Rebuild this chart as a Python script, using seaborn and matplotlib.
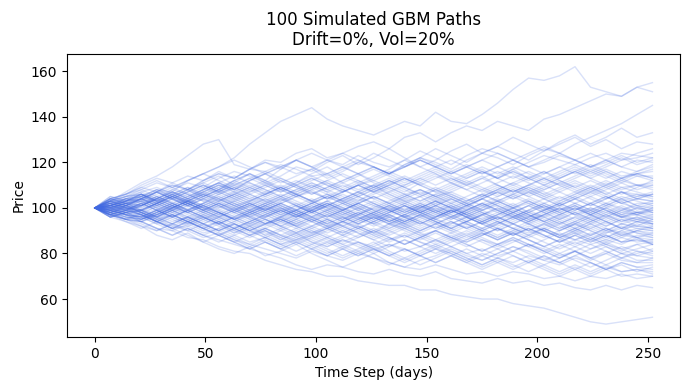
import pandas as pd
import matplotlib
matplotlib.use("Agg")
import matplotlib.pyplot as plt
import seaborn as sns

# price of each simulated path, every 7 trading days
start_price = 100
days = list(range(0, 253, 7))

batch_1 = [
    [102,104,105,108,107,112,115,118,122,128,133,138,141,144,139,136,134,132,135,138,136,142,138,137,141,146,152,157,156,158,162,153,151,149,153,151],
    [103,107,111,114,118,123,128,130,119,117,121,120,124,126,122,124,127,129,126,131,133,129,133,136,134,138,136,134,139,141,144,147,150,149,153,155],
    [99,101,98,102,105,103,107,110,108,112,115,111,114,117,113,116,120,118,115,119,122,120,117,121,124,122,119,123,126,124,128,131,134,137,141,145],
    [97,101,104,102,106,109,105,108,112,115,111,114,118,116,120,123,119,122,126,122,118,121,125,128,124,127,131,128,125,129,132,128,131,135,131,133],
    [98,95,94,91,90,87,86,83,81,80,77,75,73,72,70,70,68,67,66,66,64,64,62,61,60,60,58,57,56,54,52,50,49,50,51,52],
    [97,95,92,90,93,91,88,86,84,82,80,78,75,73,75,74,72,71,73,71,70,72,69,68,67,69,67,68,66,67,65,64,66,64,66,65],
    [101,99,97,94,92,90,87,89,86,84,82,80,78,81,79,77,80,78,76,74,73,75,73,71,72,70,72,71,69,70,68,70,69,71,69,70],
    [99,103,106,102,105,108,104,107,111,115,112,117,121,118,114,117,120,124,121,118,122,126,123,120,124,127,124,121,125,128,131,127,130,126,129,128],
    [103,101,98,96,99,95,92,94,91,88,90,86,89,85,83,86,84,81,84,82,79,82,80,77,80,78,76,79,77,75,78,76,73,75,72,74],
    [98,101,104,107,110,108,112,115,113,117,120,117,121,124,121,118,121,118,115,119,122,119,116,119,116,113,117,120,123,121,119,122,124,121,124,126],
]
batch_2 = [
    [101,104,103,107,110,108,112,115,113,117,116,119,117,114,115,111,108,110,106,103,105,101,98,100,97,99,102,98,96,99,101,97,100,103,99,101],
    [97,95,98,94,91,92,89,91,88,85,87,84,86,89,86,83,85,82,84,81,83,86,83,80,82,79,81,84,82,79,81,78,80,83,81,80],
    [104,106,109,107,111,114,112,116,113,117,120,118,115,117,121,119,123,120,118,121,125,122,119,123,126,124,121,118,120,123,121,118,120,123,120,122],
    [99,97,94,96,100,103,101,98,95,97,93,95,92,89,91,94,92,89,93,91,88,90,87,85,88,91,89,92,90,87,89,86,89,91,89,88],
    [101,103,106,104,108,111,109,113,116,114,111,108,105,107,104,107,110,112,109,106,108,105,107,104,101,103,100,102,99,101,98,100,98,101,98,96],
    [97,94,92,88,86,89,85,82,80,83,79,81,84,80,77,74,77,80,76,74,77,79,82,79,77,80,83,81,78,76,79,82,84,82,79,81],
    [103,106,110,113,111,108,105,108,112,115,112,108,111,115,118,114,111,114,117,121,118,115,111,114,117,113,110,113,116,112,109,112,109,106,109,112],
    [100,102,99,97,94,96,99,102,100,96,93,95,98,95,92,94,97,101,99,96,98,95,93,96,99,101,98,95,97,100,97,99,102,100,98,97],
    [98,96,94,97,100,103,106,104,101,103,100,97,99,102,105,102,99,96,93,95,98,95,92,94,97,94,91,89,91,88,86,88,91,89,91,90],
    [102,100,97,101,98,95,98,95,92,89,91,88,86,88,91,88,85,83,86,88,85,83,86,89,86,84,86,83,80,83,86,84,86,84,87,84],
]
batch_3 = [
    [105,103,101,104,107,104,108,111,108,105,102,105,101,98,101,98,95,98,101,98,101,104,101,97,100,103,106,103,100,103,106,109,106,103,105,107],
    [97,99,102,105,102,99,102,106,103,100,97,100,97,94,97,100,103,107,110,107,111,114,111,108,111,114,117,113,116,113,116,119,116,113,116,119],
    [101,104,102,99,96,93,96,93,89,92,88,85,88,85,82,79,82,85,81,78,81,84,81,78,75,78,81,78,75,78,81,77,80,77,76,78],
    [99,102,105,103,106,102,99,102,105,102,99,102,105,108,104,107,110,107,104,101,98,101,98,101,98,95,98,95,92,95,98,95,92,95,92,95],
    [103,100,97,94,97,94,97,100,103,100,103,106,103,100,103,100,97,100,103,106,103,106,103,100,104,107,110,107,104,101,104,101,104,107,104,103],
    [96,98,95,97,100,98,101,98,95,92,95,92,89,92,95,92,89,86,89,92,89,86,89,92,89,86,89,86,83,86,89,86,90,87,90,89],
    [100,97,99,102,105,108,111,114,110,113,116,113,110,106,109,112,115,111,108,105,108,105,108,111,108,111,114,111,108,111,114,117,114,111,114,114],
    [102,104,107,109,106,103,100,98,101,98,95,92,95,98,95,92,95,98,94,97,94,97,100,97,94,97,100,97,94,91,94,97,94,91,94,93],
    [98,100,98,95,93,96,93,90,93,90,87,90,93,90,87,84,87,90,93,90,87,90,93,96,93,90,93,90,87,90,93,90,87,90,93,91],
    [101,99,101,104,107,105,108,111,114,111,108,105,108,111,108,111,114,117,114,111,114,117,114,111,114,110,107,110,107,104,107,104,101,104,101,100],
]
batch_4 = [
    [99,96,95,98,101,98,95,92,89,92,89,86,89,86,83,86,83,80,83,86,83,80,83,80,77,80,83,80,77,80,77,74,77,80,77,77],
    [104,106,108,105,102,105,108,111,108,112,115,118,121,118,115,118,115,112,115,118,121,118,115,118,121,124,121,124,127,124,121,118,121,118,121,120],
    [97,99,102,99,96,99,102,105,102,99,102,105,102,99,96,99,102,99,96,99,102,105,102,99,102,105,108,105,102,99,102,99,96,99,102,102],
    [102,99,97,94,91,94,91,88,91,94,91,88,85,88,91,94,91,88,91,94,97,94,91,94,97,100,97,94,97,94,91,94,97,94,96,94],
    [100,103,105,102,99,102,105,108,105,108,111,108,111,114,111,108,105,108,111,114,111,108,111,108,105,108,111,108,105,102,105,108,105,102,104,106],
    [98,95,97,94,91,88,85,88,85,82,85,82,79,82,85,82,85,82,79,82,79,76,79,82,79,82,79,76,79,76,79,76,73,76,74,75],
    [103,101,104,101,104,107,110,107,104,101,104,101,98,101,98,101,104,101,98,101,98,95,98,101,104,107,104,107,110,107,110,107,110,113,110,111],
    [101,104,106,103,100,97,94,97,94,97,100,97,100,103,100,97,100,97,94,97,100,103,100,103,106,103,100,103,100,97,100,97,100,97,100,99],
    [96,98,101,104,101,98,101,98,95,98,101,98,95,98,101,104,107,104,107,104,101,98,95,98,95,92,95,98,95,92,89,92,89,92,89,87],
    [100,98,95,97,100,103,106,103,100,97,100,97,94,97,94,91,94,97,100,103,100,103,100,97,94,97,100,97,94,97,94,97,94,91,94,92],
]
batch_5 = [
    [104,102,101,105,108,106,103,106,109,112,115,112,109,106,109,112,115,118,115,112,115,118,121,118,115,118,115,112,115,118,121,118,121,118,116,118],
    [99,101,98,95,97,94,91,88,91,88,91,94,91,88,85,88,91,88,85,88,85,82,85,88,85,82,85,88,85,82,85,82,85,82,84,85],
    [101,98,99,102,105,102,99,96,99,96,99,102,99,96,99,102,99,102,99,96,93,96,99,96,93,90,93,96,93,90,93,90,87,90,87,84],
    [97,99,102,99,102,105,108,111,108,111,108,105,108,111,108,105,102,105,102,99,102,99,96,99,102,99,96,99,102,105,102,99,102,99,101,98],
    [102,105,108,111,109,112,115,118,121,118,115,118,121,118,121,124,121,118,115,118,121,118,115,118,115,118,121,118,115,118,115,118,115,112,115,113],
    [100,98,96,93,96,99,96,93,96,99,102,99,96,99,102,99,96,93,96,93,90,93,96,93,90,87,90,93,90,87,84,87,84,81,84,81],
    [98,100,103,106,109,106,103,100,103,106,103,100,97,100,103,106,103,106,109,106,103,106,109,112,109,106,109,106,109,112,109,106,109,112,110,109],
    [103,101,98,96,99,96,93,96,93,90,93,96,99,96,93,90,87,90,87,84,87,90,87,84,81,84,87,84,81,78,81,84,81,78,81,79],
    [101,103,105,102,99,102,105,108,105,102,99,102,105,102,105,108,105,108,105,102,105,108,105,102,99,102,105,102,99,102,99,102,105,102,100,102],
    [96,94,91,94,97,100,97,94,91,88,91,88,91,94,91,88,91,94,97,94,97,94,91,94,97,100,97,94,97,100,97,100,97,100,97,99],
]
batch_6 = [
    [100,97,96,99,96,93,90,93,90,87,90,87,84,87,84,87,90,87,90,87,90,93,90,87,90,93,96,93,90,93,96,93,96,93,95,93],
    [105,103,106,103,100,103,100,97,100,103,106,109,106,109,106,103,106,109,112,109,106,109,106,103,106,103,106,109,106,103,106,109,106,109,107,105],
    [98,101,103,100,103,106,109,106,109,106,103,100,97,100,97,94,97,94,91,94,97,94,91,88,91,94,91,94,91,88,91,94,91,88,90,92],
    [101,99,98,95,92,95,92,89,86,83,86,83,86,83,80,83,80,83,80,77,80,83,80,77,74,77,74,77,74,71,74,71,74,72,73,71],
    [99,101,104,107,104,107,110,107,104,107,110,107,110,113,110,107,110,113,116,113,110,113,116,113,116,113,116,113,110,113,116,113,110,113,115,116],
    [102,100,99,102,99,102,99,102,99,96,93,96,93,96,99,96,93,96,99,102,99,102,105,102,99,102,99,96,99,102,99,102,99,96,98,100],
    [97,95,94,97,100,103,100,97,100,97,100,103,106,103,106,103,100,97,100,97,100,97,94,91,94,91,94,97,94,91,94,91,94,91,92,91],
    [103,105,106,103,106,103,106,109,106,109,106,103,106,103,100,97,100,97,94,97,94,91,94,91,94,91,88,91,88,85,88,91,88,85,88,87],
    [100,102,104,107,104,107,110,107,110,113,110,107,110,107,104,107,110,107,110,113,110,107,104,101,104,101,98,101,98,101,104,101,104,107,104,106],
    [98,96,95,98,95,92,95,98,95,92,95,92,89,92,89,92,89,86,83,86,83,86,83,86,89,86,89,86,83,80,83,86,83,80,82,84],
]
batch_7 = [
    [101,103,105,108,105,102,99,102,99,102,99,96,99,102,99,102,105,102,99,96,99,102,99,102,105,108,105,108,105,108,111,108,111,108,110,110],
    [99,97,96,93,90,93,96,93,96,93,90,87,90,87,90,93,96,93,90,93,90,93,96,93,90,87,90,87,90,87,90,87,84,87,85,86],
    [104,102,101,104,107,104,101,98,95,98,101,104,101,98,101,104,101,98,101,104,107,104,107,110,107,110,107,110,113,110,107,110,107,104,106,104],
    [96,98,99,96,93,96,93,90,93,90,93,96,99,96,93,96,93,96,99,102,99,96,99,96,93,96,93,90,93,90,93,96,93,96,94,96],
    [102,100,99,96,99,96,93,96,93,90,93,90,87,90,87,90,93,90,87,84,87,84,87,84,81,84,81,84,81,78,81,78,75,78,76,76],
    [100,102,104,101,104,101,104,107,110,107,110,113,110,113,110,107,110,107,110,113,110,107,110,113,116,113,116,113,110,113,116,113,116,113,115,117],
    [97,99,102,105,102,99,102,99,102,99,102,99,96,99,96,99,102,99,96,93,96,99,96,99,102,99,96,99,96,93,96,99,96,99,97,95],
    [103,105,107,104,101,98,95,98,95,98,101,98,101,104,101,98,95,98,95,92,95,98,95,98,101,98,101,104,101,98,101,98,101,98,100,98],
    [99,97,95,98,101,104,101,104,101,98,95,92,95,92,95,98,101,98,101,98,101,98,101,98,101,104,101,98,101,98,95,98,95,98,97,100],
    [101,99,97,94,91,94,91,88,85,88,85,82,85,82,79,82,79,82,79,82,79,82,79,76,79,76,79,76,79,76,73,76,73,76,74,73],
]
batch_8 = [
    [98,100,101,98,101,104,107,110,107,104,101,104,107,110,107,110,107,110,113,110,113,116,113,110,113,116,113,116,113,116,119,116,119,122,119,121],
    [102,104,105,108,105,102,99,96,99,102,99,102,99,102,99,96,99,96,93,96,93,96,99,96,99,96,93,96,99,96,99,102,99,96,95,94],
    [100,98,96,99,102,99,96,93,96,93,96,99,102,99,102,99,96,93,96,93,96,93,90,93,90,93,96,93,90,87,90,93,90,93,91,90],
    [97,95,93,90,93,90,93,90,87,84,87,84,81,84,81,78,81,78,75,78,75,78,81,78,75,78,75,72,75,72,75,72,75,72,73,72],
    [103,101,100,103,106,109,106,109,112,109,112,109,106,109,112,109,112,109,112,109,106,103,106,103,106,109,106,109,106,109,112,109,112,109,110,108],
    [101,103,104,101,104,101,98,95,98,95,98,95,92,95,92,95,98,95,98,101,98,101,104,101,104,107,104,107,104,101,104,107,104,107,105,106],
    [99,101,104,107,104,101,104,101,98,95,92,95,92,89,92,89,92,89,86,89,86,89,86,83,86,83,86,83,86,89,86,89,86,89,87,86],
    [104,102,99,96,99,102,99,96,99,102,105,102,99,102,105,102,105,102,99,96,99,96,99,96,93,96,99,96,99,102,105,102,105,102,104,103],
    [96,98,97,94,97,94,91,94,91,94,97,94,97,94,97,94,91,94,97,94,97,100,97,94,97,94,91,88,91,88,91,88,85,88,87,89],
    [100,98,101,104,101,104,107,104,107,104,107,110,107,110,107,104,107,110,107,110,113,110,113,110,113,110,107,110,113,110,113,116,113,116,114,112],
]
batch_9 = [
    [102,100,98,95,98,101,104,101,98,101,98,95,92,95,92,89,92,89,92,95,92,95,98,95,98,95,98,101,98,95,98,95,98,96,98,99],
    [98,100,102,99,96,99,96,93,90,93,96,99,96,99,96,99,102,99,102,99,96,99,96,99,96,93,96,93,96,93,90,93,90,93,92,91],
    [101,103,106,103,106,103,100,103,106,103,106,109,106,103,106,103,106,109,106,103,100,103,100,97,100,103,100,103,100,97,100,97,94,97,95,97],
    [99,97,96,99,96,99,102,105,102,99,96,99,96,99,102,99,102,105,102,105,108,105,102,105,108,105,108,105,108,111,108,105,108,111,108,110],
    [103,101,99,96,93,96,93,90,93,90,87,84,87,84,87,84,81,84,87,84,87,90,87,90,87,84,87,84,81,84,81,78,81,78,80,82],
    [97,99,101,104,107,104,107,110,107,110,107,104,101,98,101,104,107,104,101,98,101,98,101,98,95,98,95,98,101,98,101,98,101,104,101,103],
    [100,102,103,100,97,94,97,94,91,94,97,100,97,100,103,100,97,94,97,94,91,94,91,94,91,88,91,88,91,94,91,88,91,88,90,88],
    [104,106,109,112,109,112,115,112,109,106,109,112,109,112,115,118,115,118,115,118,121,118,115,118,121,118,121,118,121,124,121,124,121,124,123,122],
    [99,97,94,91,88,91,88,91,94,91,94,91,88,91,88,85,88,91,88,91,88,85,88,85,88,91,88,91,88,85,88,85,88,85,86,84],
    [101,103,104,101,98,101,98,101,104,101,98,101,98,101,98,95,98,95,98,101,98,101,104,101,104,101,98,101,104,107,104,107,110,107,106,105],
]
batch_10 = [
    [98,96,95,98,101,98,101,104,101,98,101,98,101,98,95,92,95,92,95,92,89,92,89,86,89,86,89,86,83,86,83,80,83,80,79,78],
    [102,100,99,102,105,108,111,108,111,108,105,108,105,108,111,108,111,108,111,108,105,108,105,102,105,108,111,114,111,114,117,114,117,114,115,113],
    [100,102,104,107,104,101,98,101,98,101,104,101,98,95,98,95,98,95,98,101,98,101,98,101,98,95,98,95,98,95,92,95,92,95,94,93],
    [97,95,94,91,88,91,88,85,88,91,88,91,94,91,94,97,94,97,94,91,94,91,94,91,88,91,88,91,88,85,88,85,88,85,86,85],
    [103,105,106,103,100,103,100,103,106,109,106,109,112,109,112,115,112,109,112,109,112,115,112,115,118,115,118,115,112,115,118,115,118,121,122,124],
    [99,97,96,99,102,99,96,99,96,99,96,93,96,99,102,99,102,105,102,105,102,99,102,99,102,99,96,99,102,99,102,105,102,105,103,101],
    [101,99,97,94,91,94,91,88,85,82,85,82,85,82,79,82,79,82,79,76,79,76,79,76,73,76,73,76,73,70,73,70,73,70,71,70],
    [96,98,99,102,105,102,105,102,99,96,99,96,93,96,93,96,93,96,93,96,93,96,99,96,93,96,93,90,93,96,93,96,99,96,97,95],
    [104,102,100,97,100,103,106,103,106,103,106,109,106,103,100,103,100,103,100,97,100,103,100,97,94,97,100,97,94,97,100,97,100,97,98,98],
    [100,102,103,100,97,94,91,94,97,94,97,94,97,94,91,94,97,100,97,100,97,100,97,94,91,94,97,94,97,100,97,94,97,94,96,93],
]

batches = [batch_1, batch_2, batch_3, batch_4, batch_5,
           batch_6, batch_7, batch_8, batch_9, batch_10]

rows = []
path_id = 0
for batch in batches:
    for path in batch:
        assert len(path) == len(days) - 1, (path_id, len(path))
        for day, price in zip(days, [start_price] + path):
            rows.append({"path": path_id, "day": day, "price": price})
        path_id += 1
df = pd.DataFrame(rows)

fig, ax = plt.subplots(figsize=(6.9, 3.9), dpi=100)
sns.lineplot(data=df, x="day", y="price", units="path", estimator=None,
             color="royalblue", alpha=0.2, linewidth=1, ax=ax)
ax.set_title("100 Simulated GBM Paths\nDrift=0%, Vol=20%")
ax.set_xlabel("Time Step (days)")
ax.set_ylabel("Price")
fig.subplots_adjust(left=0.097, right=0.986, top=0.862, bottom=0.136)
plt.savefig("out.png", dpi=100)
